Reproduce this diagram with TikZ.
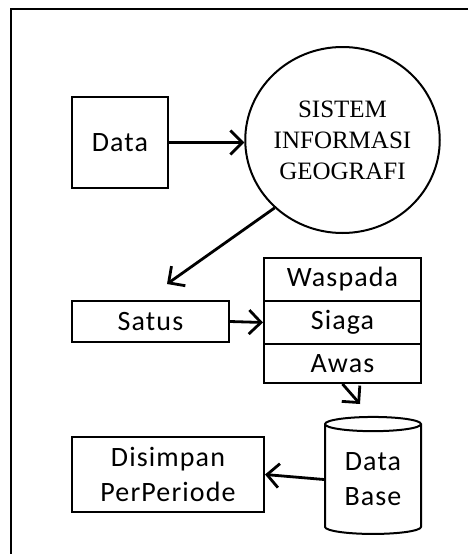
\documentclass[tikz,border=0pt]{standalone}
\usepackage{fontspec}
\setmainfont{Carlito}[LetterSpace=4]
\newfontfamily\sigfont{Liberation Serif}
\usepackage{tikz}
\usetikzlibrary{positioning,arrows.meta,shapes.geometric}

\begin{document}
\begin{tikzpicture}[x=1pt, y=-1pt,
  box/.style={draw, line width=2pt, inner sep=0pt, align=center, font=\fontsize{28}{35}\selectfont},
  flow/.style={-{Straight Barb[length=12pt,width=24pt]}, line width=2.8pt}]
\useasboundingbox (0,0) rectangle (468,554);
\draw[line width=2pt] (11,554) -- (11,9) -- (468,9);
\node[box, minimum width=96pt, minimum height=91pt] (data) at (120,142.5) {Data};
\node[box, ellipse, minimum width=193pt, minimum height=186pt, font=\sigfont\fontsize{25}{31}\selectfont] (sig) at (342.5,140) {SISTEM\\INFORMASI\\GEOGRAFI};
\node[box, minimum width=157pt, minimum height=43pt] (waspada) at (342.5,279.5) {Waspada};
\node[box, minimum width=157pt, minimum height=43pt, below=-2pt of waspada] (siaga) {Siaga};
\node[box, minimum width=157pt, minimum height=39pt, below=-2pt of siaga] (awas) {Awas};
\node[box, minimum width=157pt, minimum height=41pt] (satus) at (150.5,321.5) {Satus};
\node[box, cylinder, shape border rotate=90, aspect=0.25, minimum width=96pt, minimum height=117pt] (db) at (373,479.5) {Data\\Base};
\node[box, minimum width=192pt, minimum height=75pt] (simpan) at (168,474.5) {Disimpan\\PerPeriode};
\coordinate (toSatus) at (167,284);
\coordinate (toDb) at (360,404);
\draw[flow] (data.east) -- (data.east -| sig.west);
\draw[flow] (sig.225) -- (toSatus);
\draw[flow] (satus.east) -- (siaga.west);
\draw[flow] (awas.south) -- (toDb);
\draw[flow] (db.west) -- (simpan.east);
\end{tikzpicture}
\end{document}
